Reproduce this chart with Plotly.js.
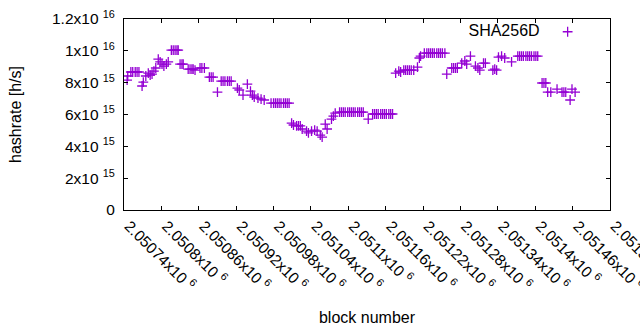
<!DOCTYPE html>
<html>
<head>
<meta charset="utf-8">
<script src="https://cdn.plot.ly/plotly-3.0.1.min.js"></script>
<style>html,body{margin:0;padding:0;background:#fff}#chart{width:640px;height:330px}</style>
</head>
<body>
<div id="chart"></div>
<script>
// block numbers
var blockNumber = [
  2050745, 2050746, 2050751, 2050754, 2050758, 2050761, 2050764, 2050769, 2050771, 2050775,
  2050779, 2050782, 2050785, 2050788, 2050791, 2050795, 2050798, 2050801, 2050804, 2050808,
  2050811, 2050816, 2050819, 2050822, 2050825, 2050827, 2050830, 2050833, 2050835, 2050843,
  2050846, 2050849, 2050851, 2050854, 2050862, 2050865, 2050869, 2050877, 2050880, 2050883,
  2050890, 2050896, 2050899, 2050902, 2050906, 2050909, 2050912, 2050922, 2050925, 2050931,
  2050938, 2050943, 2050946, 2050949, 2050955, 2050960, 2050965, 2050976, 2050980, 2050983,
  2050986, 2050989, 2050992, 2050996, 2050999, 2051002, 2051005, 2051009, 2051012, 2051017,
  2051020, 2051023, 2051026, 2051033, 2051036, 2051041, 2051046, 2051050, 2051055, 2051058,
  2051063, 2051066, 2051073, 2051076, 2051079, 2051086, 2051089, 2051092, 2051095, 2051099,
  2051102, 2051105, 2051108, 2051111, 2051115, 2051118, 2051121, 2051124, 2051132, 2051139,
  2051142, 2051145, 2051148, 2051152, 2051155, 2051158, 2051161, 2051165, 2051168, 2051171,
  2051176, 2051181, 2051184, 2051189, 2051192, 2051195, 2051198, 2051201, 2051205, 2051211,
  2051214, 2051216, 2051222, 2051226, 2051229, 2051232, 2051235, 2051238, 2051242, 2051245,
  2051248, 2051251, 2051255, 2051258, 2051266, 2051269, 2051272, 2051275, 2051282, 2051287,
  2051290, 2051296, 2051304, 2051308, 2051311, 2051317, 2051320, 2051332, 2051335, 2051338,
  2051341, 2051346, 2051351, 2051362, 2051372, 2051375, 2051378, 2051381, 2051385, 2051388,
  2051391, 2051394, 2051398, 2051401, 2051404, 2051411, 2051414, 2051417, 2051420, 2051425,
  2051435, 2051443, 2051446, 2051449, 2051456, 2051459, 2051464
];
// hashrate [h/s]
var hashrate = [
  8.16e15, 8.42e15, 8.67e15, 8.67e15, 8.67e15, 8.67e15, 8.67e15, 7.79e15, 8.04e15, 8.42e15,
  8.60e15, 8.48e15, 8.54e15, 8.73e15, 8.92e15, 9.48e15, 9.30e15, 9.17e15, 9.04e15, 9.17e15,
  9.30e15, 10.05e15, 10.05e15, 10.05e15, 10.05e15, 10.05e15, 9.17e15, 9.17e15, 9.17e15, 8.85e15,
  8.85e15, 8.85e15, 8.85e15, 8.79e15, 8.92e15, 8.92e15, 8.92e15, 8.35e15, 8.35e15, 8.35e15,
  7.41e15, 8.10e15, 8.10e15, 8.10e15, 8.10e15, 8.10e15, 8.10e15, 7.66e15, 7.54e15, 7.22e15,
  7.91e15, 7.47e15, 7.22e15, 7.10e15, 7.03e15, 6.97e15, 6.91e15, 6.72e15, 6.72e15, 6.72e15,
  6.72e15, 6.72e15, 6.72e15, 6.72e15, 6.72e15, 6.72e15, 6.72e15, 5.46e15, 5.34e15, 5.28e15,
  5.28e15, 5.28e15, 5.09e15, 4.96e15, 4.84e15, 4.96e15, 5.02e15, 4.96e15, 4.71e15, 4.58e15,
  5.40e15, 5.09e15, 5.71e15, 5.90e15, 6.09e15, 6.15e15, 6.15e15, 6.15e15, 6.15e15, 6.15e15,
  6.15e15, 6.15e15, 6.15e15, 6.15e15, 6.15e15, 6.15e15, 6.15e15, 6.15e15, 5.71e15, 6.03e15,
  6.03e15, 6.03e15, 6.03e15, 6.03e15, 6.03e15, 6.03e15, 6.03e15, 6.03e15, 6.03e15, 6.03e15,
  8.60e15, 8.73e15, 8.67e15, 8.79e15, 8.79e15, 8.79e15, 8.79e15, 8.79e15, 8.79e15, 8.98e15,
  9.55e15, 9.67e15, 9.86e15, 9.86e15, 9.86e15, 9.86e15, 9.86e15, 9.86e15, 9.86e15, 9.86e15,
  9.86e15, 9.86e15, 9.86e15, 8.54e15, 8.92e15, 8.92e15, 8.92e15, 8.92e15, 9.23e15, 9.36e15,
  9.17e15, 9.67e15, 9.04e15, 8.92e15, 8.79e15, 9.23e15, 9.23e15, 8.79e15, 8.85e15, 8.79e15,
  9.61e15, 9.67e15, 9.55e15, 9.30e15, 9.67e15, 9.67e15, 9.67e15, 9.67e15, 9.67e15, 9.67e15,
  9.67e15, 9.67e15, 9.67e15, 9.67e15, 9.67e15, 7.98e15, 7.98e15, 7.98e15, 7.41e15, 7.41e15,
  7.60e15, 7.41e15, 7.41e15, 7.41e15, 6.91e15, 7.60e15, 7.41e15
];
var xTickVals = [2050740, 2050800, 2050860, 2050920, 2050980, 2051040, 2051100,
                 2051160, 2051220, 2051280, 2051340, 2051400, 2051460, 2051520];
var xTickText = ["2.05074x10\u00a0<sup>6</sup>", "2.0508x10\u00a0<sup>6</sup>", "2.05086x10\u00a0<sup>6</sup>",
                 "2.05092x10\u00a0<sup>6</sup>", "2.05098x10\u00a0<sup>6</sup>", "2.05104x10\u00a0<sup>6</sup>",
                 "2.0511x10\u00a0<sup>6</sup>", "2.05116x10\u00a0<sup>6</sup>", "2.05122x10\u00a0<sup>6</sup>",
                 "2.05128x10\u00a0<sup>6</sup>", "2.05134x10\u00a0<sup>6</sup>", "2.0514x10\u00a0<sup>6</sup>",
                 "2.05146x10\u00a0<sup>6</sup>", "2.05152x10\u00a0<sup>6</sup>"];
var yTickVals = [0, 2e15, 4e15, 6e15, 8e15, 1e16, 1.2e16];
var yTickText = ["0", "2x10\u00a0<sup>15</sup>", "4x10\u00a0<sup>15</sup>", "6x10\u00a0<sup>15</sup>",
                 "8x10\u00a0<sup>15</sup>", "1x10\u00a0<sup>16</sup>", "1.2x10\u00a0<sup>16</sup>"];
var seriesName = "SHA256D";

var purple = "#9400d3";
var fam = "Liberation Sans, Arial, sans-serif";
var tickFont = {family: fam, size: 15.5, color: "#000"};
var titleFont = {family: fam, size: 16, color: "#000"};

var trace = {
  x: blockNumber, y: hashrate, type: "scatter", mode: "markers", name: "",
  marker: {symbol: "cross-thin", size: 7, color: purple, line: {color: purple, width: 1.3}},
  showlegend: true, hoverinfo: "x+y"
};

var axisCommon = {
  showgrid: false, zeroline: false, showline: true, linecolor: "#000", linewidth: 1,
  mirror: "allticks", ticks: "inside", ticklen: 4, tickcolor: "#000", tickwidth: 1,
  tickfont: tickFont, ticklabeloverflow: "allow"
};

var layout = {
  width: 640, height: 330,
  margin: {l: 124, r: 30, t: 19, b: 120},
  paper_bgcolor: "#fff", plot_bgcolor: "#fff",
  font: tickFont,
  showlegend: true,
  legend: {x: 0.966, xanchor: "right", y: 1.02, yanchor: "top", bgcolor: "rgba(0,0,0,0)",
           title: {text: seriesName, side: "left", font: titleFont},
           font: tickFont, itemwidth: 30},
  xaxis: Object.assign({}, axisCommon, {
    range: [2050740, 2051520], tickmode: "array", tickvals: xTickVals, ticktext: xTickText,
    tickangle: 45, ticklabelshift: 5, ticklabelstandoff: 0,
    title: {text: "block number", font: titleFont, standoff: 18}
  }),
  yaxis: Object.assign({}, axisCommon, {
    range: [0, 1.2e16], tickmode: "array", tickvals: yTickVals, ticktext: yTickText,
    ticklabelstandoff: 5,
    title: {text: "hashrate [h/s]", font: titleFont, standoff: 26}
  })
};

Plotly.newPlot("chart", [trace], layout, {displayModeBar: false, staticPlot: true});
</script>
</body>
</html>
